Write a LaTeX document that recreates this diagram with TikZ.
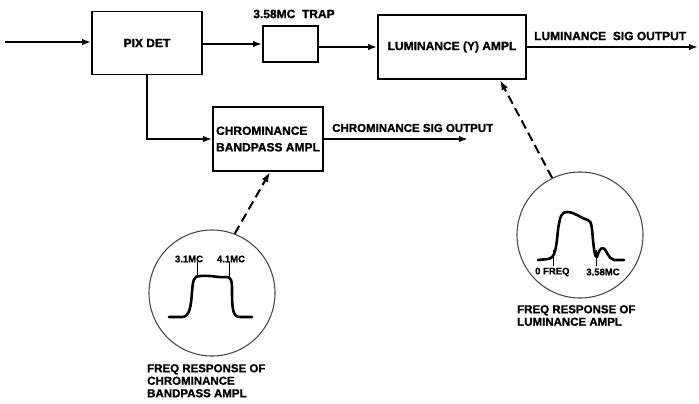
\documentclass[tikz,border=0pt]{standalone}
\usepackage{fontspec}
\setmainfont[FakeBold=1.2]{Liberation Sans}
\usetikzlibrary{arrows.meta}
\begin{document}
\begin{tikzpicture}[x=1pt,y=-1pt,
  box/.style={draw,line width=1.8pt,minimum width=#1,inner sep=0pt},
  lbl/.style={font=\fontsize{12}{13}\bfseries,inner sep=0pt},
  small/.style={font=\fontsize{9.5}{10}\bfseries,inner sep=0pt},
  conn/.style={line width=1.8pt,-{Latex[length=9pt,width=6.5pt]}},
  dashconn/.style={line width=2pt,dash pattern=on 9pt off 5pt,-{Latex[length=10pt,width=7pt]}},
  scope/.style={draw,circle,line width=1.1pt,draw=black!70,minimum size=126pt,inner sep=0pt},
  curve/.style={line width=2.6pt,line cap=round,line join=round},
  tick/.style={line width=1pt}]
\useasboundingbox (0,0) rectangle (699,404);
% boxes
\node[box=110pt,minimum height=63pt,lbl] (pix) at (147,43) {PIX DET};
\node[box=55pt,minimum height=36pt] (trap) at (290.5,44) {};
\node[box=148pt,minimum height=64pt,lbl] (lum) at (452,47) {LUMINANCE (Y) AMPL};
\node[box=110pt,minimum height=64pt,lbl,align=left,font=\fontsize{12}{16.5}\bfseries] (chrom) at (268,139) {CHROMINANCE\\BANDPASS AMPL};
% labels
\node[lbl] (traplbl) at (294,14) {3.58MC\ \ TRAP};
\node[lbl,anchor=west] (lumout) at (534,36) {LUMINANCE\ \ SIG OUTPUT};
\node[lbl,anchor=west,font=\fontsize{11.5}{12}\bfseries] (chromout) at (332,128) {CHROMINANCE SIG OUTPUT};
% coordinates
\coordinate (in) at (5,42);
\coordinate (lumend) at (698,47);
\coordinate (chromend) at (468,139);
\coordinate (lumin) at (500,80);
\coordinate (chromin) at (270,172);
% connectors
\draw[conn] (in) -- (pix.west |- in);
\draw[conn] (pix.east |- trap.west) -- (trap.west);
\draw[conn] (trap.east |- lum.west) -- (lum.west);
\draw[conn] (lum.east) -- (lumend);
\draw[conn] (pix.south) |- (chrom.west);
\draw[conn] (chrom.east) -- (chromend);
% scopes
\node[scope] (c1) at (212,293) {};
\node[scope] (c2) at (580,235) {};
\draw[dashconn] (c1.69) -- (chromin);
\draw[dashconn] (c2.116) -- (lumin);
% chroma response
\draw[curve] (169,317) -- (182,317) .. controls (190,317) and (191,305) .. (192,292)
  .. controls (193,279) and (194,276) .. (200,276)
  .. controls (212,275) and (218,278) .. (226,277)
  .. controls (231,277) and (232,280) .. (232,290)
  .. controls (232,310) and (233,317) .. (240,317) -- (252,317);
\draw[tick] (197,262) -- (197,277);
\draw[tick] (229,262) -- (229,279);
\node[small] (f31) at (189,259) {3.1MC};
\node[small] (f41) at (231,259) {4.1MC};
\node[lbl,anchor=north west,align=left,font=\fontsize{11.5}{12.5}\bfseries] (chromcap) at (147,364) {FREQ RESPONSE OF\\CHROMINANCE\\BANDPASS AMPL};
% luminance response
\draw[curve] (538,260) -- (548,259) .. controls (555,258) and (556,250) .. (558,230)
  .. controls (560,215) and (562,212) .. (567,212)
  .. controls (575,212) and (580,218) .. (588,220)
  .. controls (592,221) and (592,230) .. (593,240)
  .. controls (594,250) and (595,258) .. (597,257)
  .. controls (599,250) and (601,248) .. (603,248)
  .. controls (606,248) and (608,259) .. (614,260) -- (624,260);
\draw[tick] (553,250) -- (553,266);
\draw[tick] (596,250) -- (596,266);
\node[small,anchor=west] (f0) at (535,272) {0 FREQ};
\node[small] (f358) at (603,272) {3.58MC};
\node[lbl,anchor=north west,align=left,font=\fontsize{11.5}{12.5}\bfseries] (lumcap) at (517,305) {FREQ RESPONSE OF\\LUMINANCE AMPL};
\end{tikzpicture}
\end{document}
